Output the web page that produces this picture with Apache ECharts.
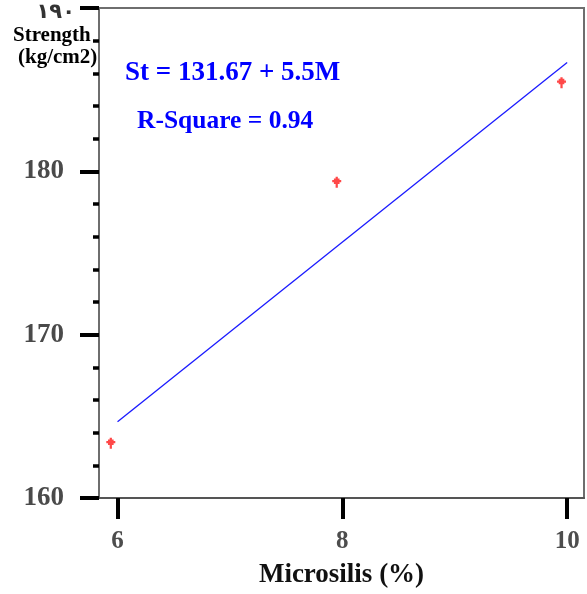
<!DOCTYPE html>
<html>
<head>
<meta charset="utf-8">
<script src="https://cdn.jsdelivr.net/npm/echarts@6/dist/echarts.min.js"></script>
<style>html,body{margin:0;padding:0;background:#fff;}#c{width:587px;height:594px;}</style>
</head>
<body>
<div id="c"></div>
<script>
// Data
var xTickValues = [6, 8, 10];
var yTickValues = [160, 170, 180, 190];
var yTickLabels = {160: '160', 170: '170', 180: '180', 190: '١٩٠'};
var pointsX = [5.94, 7.95, 9.95];
var pointsY = [163.35, 179.33, 185.43];
var fitLineX = [6, 10];
var fitLineY = [164.67, 186.67];
var equationText = 'St = 131.67 + 5.5M';
var rSquareText = 'R-Square = 0.94';
var xAxisTitle = 'Microsilis (%)';
var yAxisTitle = ['Strength', '(kg/cm2)'];

var serif = '"Liberation Serif", "Times New Roman", serif';
var chart = echarts.init(document.getElementById('c'));
chart.setOption({
  animation: false,
  backgroundColor: '#fff',
  grid: {left: 99, right: 3, top: 8, bottom: 93, show: true, borderColor: '#6e6e6e', borderWidth: 2},
  xAxis: {
    type: 'value', min: 5.835, max: 10.15,
    splitLine: {show: false},
    axisLine: {show: true, lineStyle: {color: '#555', width: 2}},
    axisTick: {show: true, customValues: xTickValues, length: 21, lineStyle: {color: '#000', width: 4}},
    axisLabel: {customValues: xTickValues, margin: 31, fontFamily: serif, fontWeight: 'bold', fontSize: 25, color: '#4d4d4d'},
    name: xAxisTitle, nameLocation: 'middle', nameGap: 64,
    nameTextStyle: {fontFamily: serif, fontWeight: 'bold', fontSize: 27, color: '#111'}
  },
  yAxis: {
    type: 'value', min: 160, max: 190, interval: 10,
    splitLine: {show: false},
    axisLine: {show: true, lineStyle: {color: '#6e6e6e', width: 2}},
    axisTick: {show: true, length: 19, lineStyle: {color: '#000', width: 4}},
    minorTick: {show: true, splitNumber: 5, length: 6, lineStyle: {color: '#000', width: 3.5}},
    axisLabel: {
      margin: 24,
      formatter: function (v) { return v === 190 ? '{a|' + yTickLabels[v] + '}' : '{n|' + yTickLabels[v] + '}'; },
      rich: {
        n: {fontFamily: serif, fontWeight: 'bold', fontSize: 27, color: '#4a4a4a', padding: [0, 11, 0, 0]},
        a: {fontFamily: '"DejaVu Sans", sans-serif', fontWeight: 'bold', fontSize: 21, color: '#333', padding: [10, 0, 0, 0]}
      }
    }
  },
  graphic: [
    {type: 'text', x: 13, y: 36, style: {text: yAxisTitle[0], font: 'bold 21px ' + serif, fill: '#000', verticalAlign: 'middle'}},
    {type: 'text', x: 18, y: 58, style: {text: yAxisTitle[1], font: 'bold 21px ' + serif, fill: '#000', verticalAlign: 'middle'}},
    {type: 'text', x: 125, y: 73, style: {text: equationText, font: 'bold 27px ' + serif, fill: '#0000ff', verticalAlign: 'middle'}},
    {type: 'text', x: 137, y: 121, style: {text: rSquareText, font: 'bold 25.5px ' + serif, fill: '#0000ff', verticalAlign: 'middle'}}
  ],
  series: [
    {
      type: 'line', data: fitLineX.map(function (x, i) { return [x, fitLineY[i]]; }),
      symbol: 'none', lineStyle: {color: '#1a1aff', width: 1.3}, silent: true
    },
    {
      type: 'scatter', data: pointsX.map(function (x, i) { return [x, pointsY[i]]; }),
      symbol: 'path://M3,0 H5 V1.5 H6.5 V3 H8 V5 H6.5 V6.5 H5 V10 H3 V6.5 H1.5 V5 H0 V3 H1.5 V1.5 H3 Z',
      symbolSize: [9, 11], itemStyle: {color: '#ff1a1a'}
    }
  ]
});
</script>
</body>
</html>
